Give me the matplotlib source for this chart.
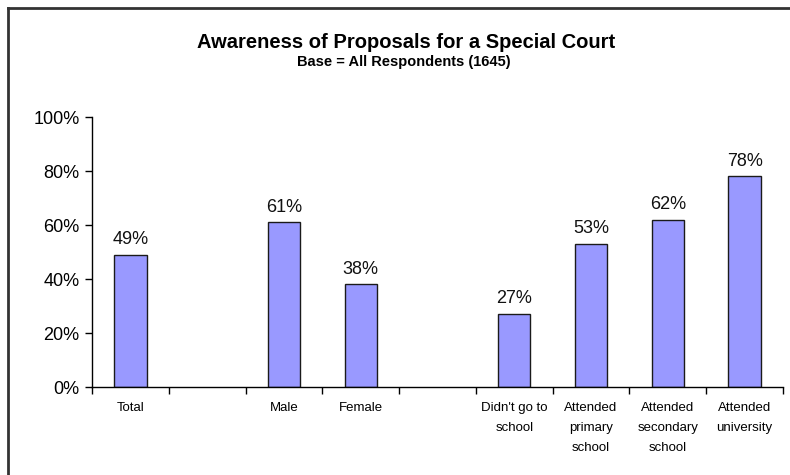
import matplotlib
matplotlib.use("Agg")
import matplotlib.pyplot as plt
from matplotlib.lines import Line2D

plt.rcParams['font.family'] = ['Liberation Sans', 'DejaVu Sans']

categories = ["Total", "", "Male", "Female", "",
              "Didn't go to\nschool", "Attended\nprimary\nschool",
              "Attended\nsecondary\nschool", "Attended\nuniversity"]
values = [49, None, 61, 38, None, 27, 53, 62, 78]
y_ticks = [0, 20, 40, 60, 80, 100]

fig = plt.figure(figsize=(7.9, 4.75), dpi=100)
ax = fig.add_axes([92 / 790, 1 - 387 / 475, (783 - 92) / 790, (387 - 117) / 475])

xs = [i for i, v in enumerate(values) if v is not None]
vs = [v for v in values if v is not None]
ax.bar(xs, vs, width=0.42, color="#9999FF", edgecolor="#1a1a1a", linewidth=1.0, zorder=2)
for x, v in zip(xs, vs):
    ax.text(x, v + 2.5, f"{v}%", ha="center", va="bottom", fontsize=13, color="#111111")

ax.set_xlim(-0.5, len(categories) - 0.5)
ax.set_ylim(0, 100)
ax.set_yticks(y_ticks)
ax.set_yticklabels([f"{t}%" for t in y_ticks], fontsize=13)
ax.set_xticks([i - 0.5 for i in range(len(categories) + 1)])
ax.set_xticklabels([])
ax.set_xticks(range(len(categories)), minor=True)
ax.set_xticklabels(categories, minor=True, fontsize=9.5, linespacing=1.85, va="top")
ax.tick_params(axis="x", which="major", direction="out", length=5, width=1)
ax.tick_params(axis="x", which="minor", length=0, pad=11)
ax.tick_params(axis="y", direction="out", length=5, width=1, pad=4)
for s in ["top", "right"]:
    ax.spines[s].set_visible(False)
for s in ["left", "bottom"]:
    ax.spines[s].set_linewidth(1.0)
    ax.spines[s].set_color("black")

fig.text(406 / 790, 1 - 42 / 475, "Awareness of Proposals for a Special Court",
         ha="center", va="center", fontsize=14.5, fontweight="bold")
fig.text(404 / 790, 1 - 62 / 475, "Base = All Respondents (1645)",
         ha="center", va="center", fontsize=10.5, fontweight="bold")

# frame lines along the left and top edges
fig.add_artist(Line2D([7.5 / 790, 7.5 / 790], [0, 1 - 7.5 / 475], transform=fig.transFigure,
                      color="#333333", linewidth=2))
fig.add_artist(Line2D([7.5 / 790, 1], [1 - 7.5 / 475, 1 - 7.5 / 475], transform=fig.transFigure,
                      color="#333333", linewidth=2))

fig.savefig("out.png", dpi=100)
